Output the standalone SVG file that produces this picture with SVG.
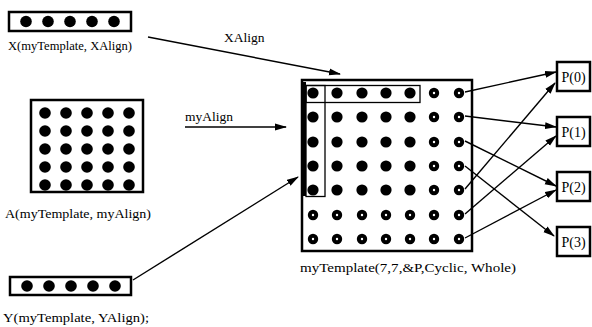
<svg xmlns="http://www.w3.org/2000/svg" width="592" height="327" viewBox="0 0 592 327">
  <style>
    .box { fill: #fff; stroke: #000; stroke-width: 2.5; }
    .thin { fill: none; stroke: #000; stroke-width: 1.3; }
    .lbl { font-family: "Liberation Serif", "Times New Roman", serif; font-size: 13.5px; fill: #000; }
    .plbl { font-family: "Liberation Serif", "Times New Roman", serif; font-size: 14px; fill: #000; }
    .edge { fill: none; stroke: #000; stroke-width: 1.4; }
  </style>
  <defs>
    <marker id="ah" markerWidth="12" markerHeight="8" refX="11" refY="4" orient="auto" markerUnits="userSpaceOnUse">
      <path d="M0,0.5 L12,4 L0,7.5 Z" fill="#000"/>
    </marker>
    <circle id="dot" r="5.8" fill="#000"/>
    <circle id="tdot" r="5.6" fill="#000"/>
    <g id="odot">
      <circle r="5.2" fill="#000"/>
      <circle r="1.2" fill="#fff"/>
    </g>
  </defs>

  <!-- X array -->
  <g id="nodeX">
    <rect class="box" x="9" y="12" width="122" height="19"/>
    <use href="#dot" x="26" y="21.5"/>
    <use href="#dot" x="48" y="21.5"/>
    <use href="#dot" x="70" y="21.5"/>
    <use href="#dot" x="92" y="21.5"/>
    <use href="#dot" x="114" y="21.5"/>
    <text class="lbl" x="8" y="50" textLength="124" lengthAdjust="spacingAndGlyphs">X(myTemplate, XAlign)</text>
  </g>

  <!-- A array -->
  <g id="nodeA">
    <rect class="box" x="31" y="100" width="112" height="92"/>
    <g>
      <use href="#dot" x="45" y="113"/><use href="#dot" x="66" y="113"/><use href="#dot" x="87" y="113"/><use href="#dot" x="108" y="113"/><use href="#dot" x="129" y="113"/>
      <use href="#dot" x="45" y="131"/><use href="#dot" x="66" y="131"/><use href="#dot" x="87" y="131"/><use href="#dot" x="108" y="131"/><use href="#dot" x="129" y="131"/>
      <use href="#dot" x="45" y="149"/><use href="#dot" x="66" y="149"/><use href="#dot" x="87" y="149"/><use href="#dot" x="108" y="149"/><use href="#dot" x="129" y="149"/>
      <use href="#dot" x="45" y="167"/><use href="#dot" x="66" y="167"/><use href="#dot" x="87" y="167"/><use href="#dot" x="108" y="167"/><use href="#dot" x="129" y="167"/>
      <use href="#dot" x="45" y="185"/><use href="#dot" x="66" y="185"/><use href="#dot" x="87" y="185"/><use href="#dot" x="108" y="185"/><use href="#dot" x="129" y="185"/>
    </g>
    <text class="lbl" x="5" y="218" textLength="146" lengthAdjust="spacingAndGlyphs">A(myTemplate, myAlign)</text>
  </g>

  <!-- Y array -->
  <g id="nodeY">
    <rect class="box" x="10" y="277" width="121" height="18"/>
    <use href="#dot" x="27" y="286"/>
    <use href="#dot" x="49" y="286"/>
    <use href="#dot" x="71" y="286"/>
    <use href="#dot" x="93" y="286"/>
    <use href="#dot" x="115" y="286"/>
    <text class="lbl" x="3" y="322" textLength="146" lengthAdjust="spacingAndGlyphs">Y(myTemplate, YAlign);</text>
  </g>

  <!-- 7x7 template -->
  <g id="template">
    <rect class="box" x="302" y="80" width="170" height="171"/>
    <!-- distributed region, rows 0-4 / cols 0-4 -->
    <g>
      <use href="#tdot" x="313" y="93"/><use href="#tdot" x="337" y="93"/><use href="#tdot" x="362" y="93"/><use href="#tdot" x="386" y="93"/><use href="#tdot" x="410" y="93"/>
      <use href="#tdot" x="313" y="117"/><use href="#tdot" x="337" y="117"/><use href="#tdot" x="362" y="117"/><use href="#tdot" x="386" y="117"/><use href="#tdot" x="410" y="117"/>
      <use href="#tdot" x="313" y="142"/><use href="#tdot" x="337" y="142"/><use href="#tdot" x="362" y="142"/><use href="#tdot" x="386" y="142"/><use href="#tdot" x="410" y="142"/>
      <use href="#tdot" x="313" y="166"/><use href="#tdot" x="337" y="166"/><use href="#tdot" x="362" y="166"/><use href="#tdot" x="386" y="166"/><use href="#tdot" x="410" y="166"/>
      <use href="#tdot" x="313" y="190"/><use href="#tdot" x="337" y="190"/><use href="#tdot" x="362" y="190"/><use href="#tdot" x="386" y="190"/><use href="#tdot" x="410" y="190"/>
    </g>
    <!-- unused template cells -->
    <g>
      <use href="#odot" x="434" y="93"/><use href="#odot" x="459" y="93"/>
      <use href="#odot" x="434" y="117"/><use href="#odot" x="459" y="117"/>
      <use href="#odot" x="434" y="142"/><use href="#odot" x="459" y="142"/>
      <use href="#odot" x="434" y="166"/><use href="#odot" x="459" y="166"/>
      <use href="#odot" x="434" y="190"/><use href="#odot" x="459" y="190"/>
      <use href="#odot" x="313" y="215"/><use href="#odot" x="337" y="215"/><use href="#odot" x="362" y="215"/><use href="#odot" x="386" y="215"/><use href="#odot" x="410" y="215"/><use href="#odot" x="434" y="215"/><use href="#odot" x="459" y="215"/>
      <use href="#odot" x="313" y="239"/><use href="#odot" x="337" y="239"/><use href="#odot" x="362" y="239"/><use href="#odot" x="386" y="239"/><use href="#odot" x="410" y="239"/><use href="#odot" x="434" y="239"/><use href="#odot" x="459" y="239"/>
    </g>
    <!-- alignment outlines of X (row) and Y (column) -->
    <rect class="thin" x="306" y="85.5" width="114" height="17"/>
    <rect class="thin" x="306" y="85.5" width="19" height="111"/>
    <rect x="303" y="82" width="3" height="114" fill="#000"/>
    <text class="lbl" x="300" y="272" textLength="216" lengthAdjust="spacingAndGlyphs">myTemplate(7,7,&amp;P,Cyclic, Whole)</text>
  </g>

  <!-- processors -->
  <g id="P0"><rect class="box" x="557" y="62" width="33" height="29"/><text class="plbl" x="573.5" y="81.5" text-anchor="middle">P(0)</text></g>
  <g id="P1"><rect class="box" x="557" y="117" width="33" height="29"/><text class="plbl" x="573.5" y="136.5" text-anchor="middle">P(1)</text></g>
  <g id="P2"><rect class="box" x="557" y="172" width="33" height="29"/><text class="plbl" x="573.5" y="191.5" text-anchor="middle">P(2)</text></g>
  <g id="P3"><rect class="box" x="557" y="227" width="33" height="29"/><text class="plbl" x="573.5" y="246.5" text-anchor="middle">P(3)</text></g>

  <!-- connectors -->
  <g id="connectors">
    <line class="edge" x1="148" y1="37" x2="340" y2="74" marker-end="url(#ah)"/>
    <text class="lbl" x="224" y="42">XAlign</text>
    <line class="edge" x1="185" y1="127" x2="286" y2="127" marker-end="url(#ah)"/>
    <text class="lbl" x="185" y="121">myAlign</text>
    <line class="edge" x1="133" y1="280" x2="298" y2="177" marker-end="url(#ah)"/>

    <line class="edge" x1="465" y1="92" x2="556" y2="72" marker-end="url(#ah)"/>
    <line class="edge" x1="465" y1="116" x2="556" y2="127" marker-end="url(#ah)"/>
    <line class="edge" x1="465" y1="141" x2="556" y2="186" marker-end="url(#ah)"/>
    <line class="edge" x1="465" y1="166" x2="554" y2="236" marker-end="url(#ah)"/>
    <line class="edge" x1="465" y1="189" x2="555" y2="83" marker-end="url(#ah)"/>
    <line class="edge" x1="465" y1="214" x2="556" y2="136" marker-end="url(#ah)"/>
    <line class="edge" x1="465" y1="238" x2="556" y2="190" marker-end="url(#ah)"/>
  </g>
</svg>
